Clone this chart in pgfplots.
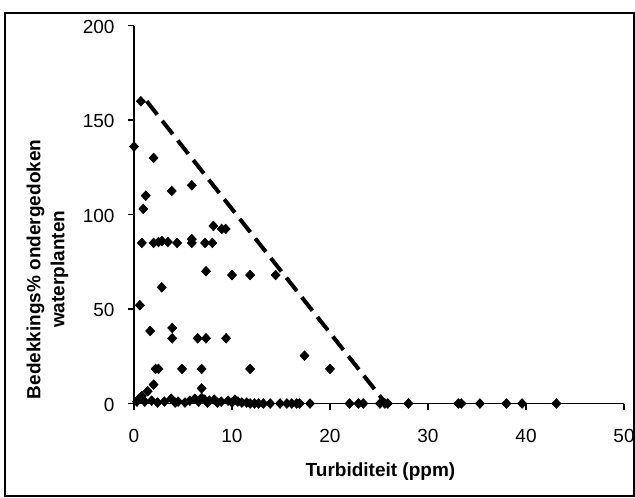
\documentclass[border=0pt]{standalone}
\usepackage{pgfplots}
\pgfplotsset{compat=1.18}
\usepackage{fontspec}
\setmainfont{Liberation Sans}
\usetikzlibrary{plotmarks}
\begin{document}
\begin{tikzpicture}
\useasboundingbox (-134bp,-94.5bp) rectangle (501bp,403.5bp);
\draw[line width=1.8bp] (-129bp,-92.5bp) rectangle (500.2bp,390.5bp);
\begin{axis}[
  scale only axis,
  width=490bp, height=377.8bp,
  xmin=0, xmax=50, ymin=0, ymax=200,
  axis x line=bottom, axis y line=left,
  axis line style={-, line width=1.5bp},
  xtick={0,10,...,50}, ytick={0,50,...,200},
  tick align=outside,
  major tick length=6bp,
  tick style={line width=1.5bp, black},
  clip=false,
  /pgf/number format/assume math mode=true,
  ticklabel style={font=\fontsize{19bp}{23bp}\selectfont},
  xticklabel style={yshift=-16bp},
  yticklabel style={xshift=-10bp, yshift=-1bp},
  xlabel={Turbiditeit (ppm)},
  xlabel style={at={(axis description cs:0.5,0)}, anchor=base, yshift=-72.5bp, xshift=1.5bp, font=\fontsize{19bp}{23bp}\selectfont\bfseries},
  ylabel={Bedekkings\% ondergedoken\\waterplanten},
  ylabel style={at={(axis description cs:-0.1765,0.355)}, anchor=center, align=center, font=\fontsize{19bp}{24bp}\selectfont\bfseries},
]
\addplot[only marks, mark=diamond*, mark size=4.9bp, mark options={fill=black, draw=black, line width=0.5bp, xscale=1.25}] coordinates {
(0.7,160) (0,136) (2.0,130) (1.2,110) (3.85,112.5) (5.9,115.5) (0.95,103)
(8.1,94) (8.95,92.4) (9.35,92.4)
(0.8,85) (2.0,85) (2.5,85.5) (2.85,86) (3.45,85.5) (4.4,85) (5.9,85) (5.9,87) (7.25,85) (8.0,85)
(7.35,70) (10.0,68) (11.85,68) (14.45,68)
(2.83,61.5) (0.6,52)
(1.65,38.4) (3.9,40) (3.9,34.5) (6.5,34.5) (7.35,34.5) (9.4,34.5)
(17.4,25.3)
(2.2,18.3) (2.5,18.3) (4.9,18.3) (6.9,18.3) (11.85,18.3) (20,18.3)
(2.0,10) (6.9,8) (1.4,6.5) (0.8,4) (0.5,2.5)
(0.3,1) (1.1,1) (1.8,1.5) (2.4,0.5) (3.1,1) (3.8,2.5) (4.2,0.5) (4.5,1) (5.2,0.5) (5.7,1.5)
(6.2,2.5) (6.6,1) (6.9,3) (7.2,2) (7.5,0.5) (7.7,1.5) (8.2,2) (8.5,0.5) (8.9,1) (9.6,1.5)
(10.0,0.5) (10.3,2) (10.6,1) (11,0.5) (11.5,0.5) (11.85,0) (12.3,0) (12.7,0) (13.2,0) (13.9,0)
(14.9,0) (15.6,0) (16.1,0) (16.6,0) (16.9,0) (17.96,0) (22,0) (22.9,0) (23.4,0) (25.1,0)
(25.6,0) (25.9,0) (28,0) (33.1,0) (33.4,0) (35.3,0) (38,0) (39.6,0) (43.1,0)
};
\addplot[black, line width=4bp, dash pattern=on 17bp off 8bp, line cap=butt] coordinates {(1.3,160) (25.7,0)};
\end{axis}
\end{tikzpicture}
\end{document}
